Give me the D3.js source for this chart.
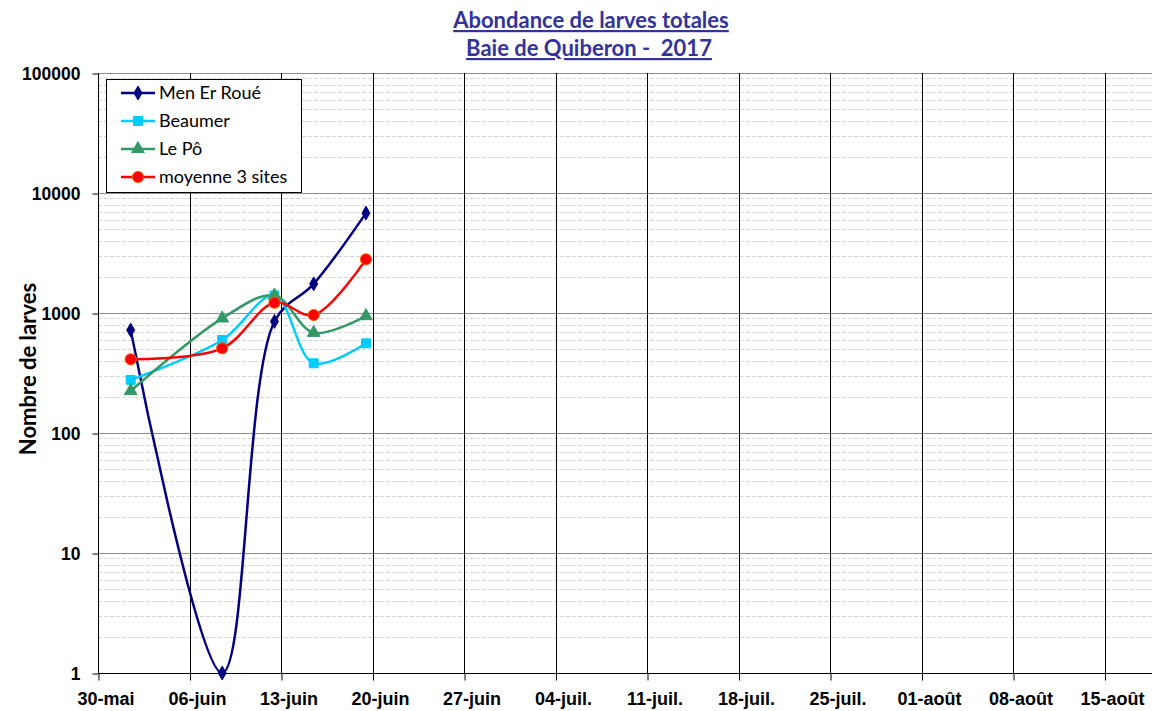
<!DOCTYPE html>
<html><head><meta charset="utf-8">
<script src="https://cdn.jsdelivr.net/npm/d3@7"></script>
<style>
body{margin:0;background:#fff;}
svg{display:block;font-family:Lato,"Open Sans",sans-serif;}
</style></head>
<body><svg id="c" width="1152" height="711"></svg>
<script>
const tickDates = ["2017-05-30","2017-06-06","2017-06-13","2017-06-20","2017-06-27","2017-07-04","2017-07-11","2017-07-18","2017-07-25","2017-08-01","2017-08-08","2017-08-15"];
const tickLabels = ["30-mai","06-juin","13-juin","20-juin","27-juin","04-juil.","11-juil.","18-juil.","25-juil.","01-août","08-août","15-août"];
const sampleDates = ["2017-06-01T12:00","2017-06-08T12:00","2017-06-12T12:00","2017-06-15T12:00","2017-06-19T12:00"];
const menErRoue = [720, 1, 850, 1750, 6800];
const beaumer = [277, 596, 1400, 381, 559];
const lePo = [224, 903, 1400, 685, 944];
const moyenne = [411, 508, 1219, 962, 2800];
const seriesNames = ["Men Er Roué","Beaumer","Le Pô","moyenne 3 sites"];
const yTicks = [1,10,100,1000,10000,100000];

const parse = s => new Date(s);
const svg = d3.select("#c");
const L = 98, T = 73, B = 673;
const x = d3.scaleTime().domain([parse("2017-05-30"), parse("2017-08-19")]).range([L, L + 81*91.5/7]);
const y = d3.scaleLog().domain([1,100000]).range([B, T]);

// minor gridlines
const minors = [];
for (let e=0;e<5;e++) for (let k=2;k<=9;k++) minors.push(k*Math.pow(10,e));
svg.append("g").selectAll("line").data(minors).join("line")
  .attr("x1",L).attr("x2",1152).attr("y1",d=>Math.round(y(d))+0.5).attr("y2",d=>Math.round(y(d))+0.5)
  .attr("stroke","#d4d4d4").attr("stroke-width",1).attr("stroke-dasharray","4,2");
// major gridlines
svg.append("g").selectAll("line").data(yTicks).join("line")
  .attr("x1",L).attr("x2",1152).attr("y1",d=>Math.round(y(d))+0.5).attr("y2",d=>Math.round(y(d))+0.5)
  .attr("stroke","#8c8c8c").attr("stroke-width",1);
// vertical gridlines
svg.append("g").selectAll("line").data(tickDates.slice(1)).join("line")
  .attr("x1",d=>Math.round(x(parse(d)))+0.5).attr("x2",d=>Math.round(x(parse(d)))+0.5)
  .attr("y1",T).attr("y2",B).attr("stroke","#000").attr("stroke-width",1);

// x axis
const xAxis = d3.axisBottom(x).tickValues(tickDates.map(parse)).tickSize(7).tickPadding(12)
  .tickFormat((d,i)=>tickLabels[i]);
const gx = svg.append("g").attr("transform",`translate(0.5,${B+0.5})`).call(xAxis);
gx.select(".domain").attr("d",`M${L},0H1152`).attr("stroke","#000");
gx.selectAll("text").attr("font-size",18).attr("font-weight","bold").attr("fill","#000").attr("dx",7);

// y axis
const yAxis = d3.axisLeft(y).tickValues(yTicks).tickSize(6).tickPadding(12).tickFormat(d3.format("d"));
const gy = svg.append("g").attr("transform",`translate(${L+0.5},0.5)`).call(yAxis);
gy.select(".domain").attr("d",`M0,${T}V${B}`).attr("stroke","#000");
gy.selectAll("text").attr("font-size",17.5).attr("font-weight","bold").attr("fill","#000");

// titles
svg.append("text").attr("x",591).attr("y",28).attr("text-anchor","middle")
  .attr("font-size",22).attr("font-weight","bold").attr("fill","#333399")
  .attr("text-decoration","underline").text("Abondance de larves totales");
svg.append("text").attr("x",589).attr("y",56).attr("text-anchor","middle")
  .attr("font-size",22).attr("font-weight","bold").attr("fill","#333399")
  .attr("text-decoration","underline").style("white-space","pre").text("Baie de Quiberon -  2017");
svg.append("text").attr("transform","translate(36,369) rotate(-90)").attr("text-anchor","middle")
  .attr("font-size",22).attr("font-weight","bold").attr("fill","#000").text("Nombre de larves");

// series
const series = [
  {name:seriesNames[0], vals:menErRoue, color:"#000080", sym:"diamond"},
  {name:seriesNames[1], vals:beaumer, color:"#00CCFF", sym:"square"},
  {name:seriesNames[2], vals:lePo, color:"#339966", sym:"triangle"},
  {name:seriesNames[3], vals:moyenne, color:"#FF0000", sym:"circle"}
];
const symMap = {diamond:d3.symbolDiamond, square:d3.symbolSquare, triangle:d3.symbolTriangle, circle:d3.symbolCircle};
const symSize = {diamond:55, square:80, triangle:70, circle:100};
const line = d3.line().x(d=>x(d[0])).y(d=>y(d[1])).curve(d3.curveCatmullRom.alpha(0.5));
function marker(g, s, cx, cy){
  g.append("path").attr("d", d3.symbol().type(symMap[s.sym]).size(symSize[s.sym])())
    .attr("transform",`translate(${cx},${cy})`)
    .attr("fill",s.color).attr("stroke", s.sym==="circle" ? "#FF6600" : s.color).attr("stroke-width",1);
}
series.forEach(s=>{
  const pts = sampleDates.map((d,i)=>[parse(d), s.vals[i]]);
  svg.append("path").datum(pts).attr("d",line).attr("fill","none").attr("stroke",s.color).attr("stroke-width",2.5);
});
series.forEach(s=>{
  const g = svg.append("g");
  sampleDates.forEach((d,i)=>marker(g, s, x(parse(d)), y(s.vals[i])));
});

// legend
const lg = svg.append("g");
lg.append("rect").attr("x",106.5).attr("y",79.5).attr("width",195).attr("height",113)
  .attr("fill","#fff").attr("stroke","#000").attr("stroke-width",1);
series.forEach((s,i)=>{
  const yy = 93 + i*28;
  lg.append("line").attr("x1",121).attr("x2",155).attr("y1",yy).attr("y2",yy).attr("stroke",s.color).attr("stroke-width",2.5);
  marker(lg, s, 138, yy);
  lg.append("text").attr("x",159).attr("y",yy+6).attr("font-size",18).attr("fill","#000").text(s.name);
});
</script></body></html>
